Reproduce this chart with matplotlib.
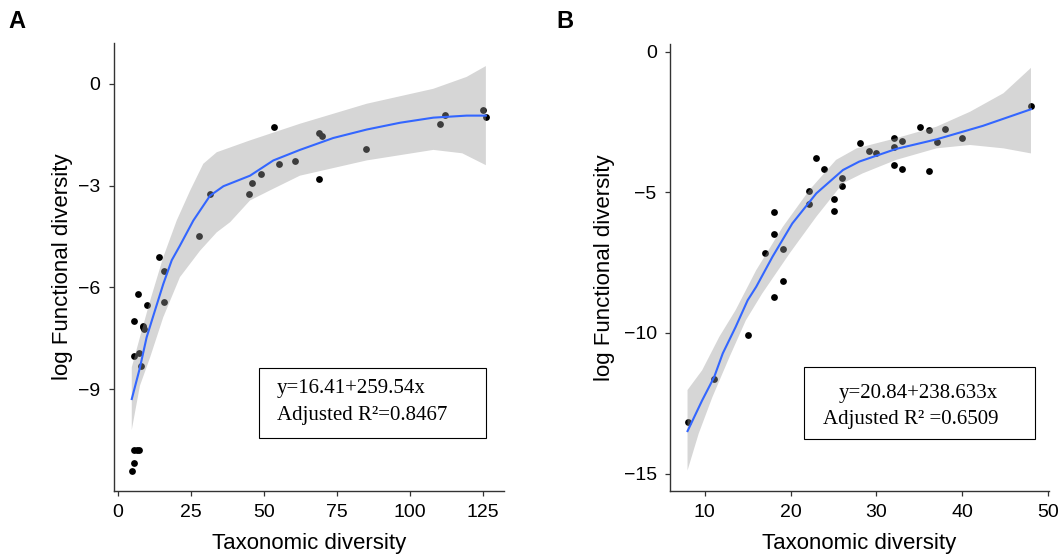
import matplotlib.pyplot as plt
import numpy as np
from matplotlib.patches import Rectangle

plt.rcParams['font.family'] = ['Liberation Sans', 'DejaVu Sans']

# Panel A: observed points (taxonomic vs log functional diversity)
a_tax = [4.8, 5.7, 5.7, 6.5, 7.3, 5.7, 7.3, 8.1, 5.7, 8.8, 8.5, 9.0, 7.1, 9.9,
         16.0, 16.0, 14.1, 27.9, 31.6, 45.0, 45.9, 49.2, 53.6, 55.1, 60.8,
         69.0, 69.9, 69.0, 84.9, 110.3, 112.1, 125.2, 126.1]
a_fun = [-11.41, -11.17, -10.79, -10.79, -10.79, -8.03, -7.94, -8.32, -7.00,
         -7.13, -7.18, -7.23, -6.19, -6.52, -6.44, -5.53, -5.12, -4.50, -3.25,
         -3.25, -2.92, -2.65, -1.27, -2.36, -2.29, -1.45, -1.55, -2.82, -1.91,
         -1.20, -0.91, -0.78, -0.99]

# Panel A: smoothed fit and confidence band
a_fit_x = [4.8, 7.5, 9.9, 12.5, 15.6, 18.5, 21.3, 25.9, 31.6, 36.2, 45.3, 53.3,
           62.4, 73.8, 85.3, 96.7, 108.1, 119.5, 126.1]
a_fit_y = [-9.29, -8.40, -7.47, -6.75, -5.90, -5.20, -4.77, -4.03, -3.30, -3.02,
           -2.71, -2.26, -1.95, -1.60, -1.35, -1.15, -1.00, -0.94, -0.94]
a_hi_x = [4.8, 7.6, 11.1, 15.6, 20.2, 24.8, 29.3, 33.9, 45.3, 62.4, 85.3, 108.1,
          119.5, 126.1]
a_hi = [-8.36, -7.47, -6.39, -5.11, -4.03, -3.15, -2.36, -2.02, -1.67, -1.18,
        -0.59, -0.15, 0.20, 0.52]
a_lo_x = [4.8, 7.6, 11.1, 15.6, 21.3, 28.2, 33.9, 38.5, 45.3, 52.0, 62.4, 85.3,
          108.1, 118.0, 126.1]
a_lo = [-10.20, -8.90, -8.06, -6.88, -5.70, -4.92, -4.38, -4.08, -3.44, -3.15,
        -2.71, -2.26, -1.95, -2.05, -2.40]

# Panel B
b_tax = [8.0, 11.1, 15.0, 18.1, 19.1, 17.0, 19.1, 18.1, 18.1, 22.1, 22.1, 25.1,
         25.1, 23.0, 23.9, 26.0, 26.0, 28.1, 29.1, 30.0, 32.1, 33.0, 32.1, 32.1,
         33.0, 36.1, 35.1, 36.1, 38.0, 37.0, 40.0, 48.0]
b_fun = [-13.15, -11.64, -10.06, -8.74, -8.14, -7.16, -7.03, -6.49, -5.72, -4.95,
         -5.42, -5.25, -5.68, -3.77, -4.19, -4.48, -4.79, -3.26, -3.55, -3.62,
         -3.08, -3.17, -3.38, -4.02, -4.19, -4.23, -2.69, -2.79, -2.74, -3.21,
         -3.08, -1.93]

b_fit_x = [8.0, 9.7, 11.1, 12.1, 13.6, 15.0, 16.0, 17.9, 20.2, 23.0, 26.1, 28.0,
           32.3, 37.0, 42.4, 48.0]
b_fit_y = [-13.49, -12.40, -11.57, -10.73, -9.79, -8.84, -8.36, -7.29, -6.11,
           -5.04, -4.21, -3.91, -3.46, -3.12, -2.64, -2.05]
b_hi_x = [8.0, 9.7, 11.7, 13.6, 16.0, 19.1, 22.2, 25.3, 27.7, 32.3, 37.0, 40.9,
          44.8, 48.0]
b_hi = [-12.03, -11.33, -10.14, -9.19, -7.77, -6.23, -4.92, -3.85, -3.44, -3.08,
        -2.67, -2.14, -1.48, -0.58]
b_lo_x = [8.0, 9.3, 10.9, 12.9, 14.8, 16.7, 19.9, 23.0, 26.1, 28.4, 32.3, 37.0,
          40.9, 44.8, 48.0]
b_lo = [-14.89, -13.58, -12.28, -10.85, -9.55, -8.60, -7.17, -5.87, -4.68, -4.33,
        -3.85, -3.44, -3.32, -3.44, -3.62]

a_xticks = [0, 25, 50, 75, 100, 125]
a_yticks = [0, -3, -6, -9]
b_xticks = [10, 20, 30, 40, 50]
b_yticks = [0, -5, -10, -15]

a_text = ["y=16.41+259.54x", "Adjusted R\u00b2=0.8467"]
b_text = ["y=20.84+238.633x", "Adjusted R\u00b2 =0.6509"]


def draw_panel(ax, tax, fun, fx, fy, hx, hi, lx, lo, ylab_x):
    ax.scatter(tax, fun, s=24, color='black', zorder=2, linewidths=0)
    poly_x = np.concatenate([hx, lx[::-1]])
    poly_y = np.concatenate([hi, lo[::-1]])
    ax.fill(poly_x, poly_y, color='#999999', alpha=0.4, lw=0, zorder=3)
    ax.plot(fx, fy, color='#3366FF', lw=1.5, zorder=4)
    for s in ['top', 'right']:
        ax.spines[s].set_visible(False)
    for s in ['left', 'bottom']:
        ax.spines[s].set_color('#333333')
        ax.spines[s].set_linewidth(1.0)
    ax.tick_params(length=3.6, width=0.9, color='#333333', labelsize=14, pad=6,
                   labelcolor='black')
    ax.set_xlabel("Taxonomic diversity", fontsize=16)
    ax.set_ylabel("log Functional diversity", fontsize=16)
    ax.xaxis.set_label_coords(0.5, -0.093)
    ax.yaxis.set_label_coords(ylab_x, 0.5)


def add_box(ax, box, lines):
    (x0, y0, x1, y1) = box
    ax.add_patch(Rectangle((x0, y0), x1 - x0, y1 - y0, transform=ax.transAxes,
                           fill=False, ec='black', lw=0.8, zorder=5))
    for (tx, ty, t) in lines:
        ax.text(tx, ty, t, transform=ax.transAxes, ha='left', va='center',
                fontsize=15, family='Liberation Serif', zorder=6)


fig = plt.figure(figsize=(10.61, 5.56), dpi=100)

ax1 = fig.add_axes([0.1074, 0.1169, 0.3676, 0.8058])
draw_panel(ax1, a_tax, a_fun, a_fit_x, a_fit_y, a_hi_x, a_hi, a_lo_x, a_lo,
           -0.105)
ax1.set_xlim(-1.3, 132.3)
ax1.set_ylim(-12.0, 1.2)
ax1.set_xticks(a_xticks)
ax1.set_yticks(a_yticks)
add_box(ax1, (0.3726, 0.1176, 0.9538, 0.2752),
        [(0.4172, 0.2292, a_text[0]), (0.4172, 0.1696, a_text[1])])

ax2 = fig.add_axes([0.6315, 0.1169, 0.3572, 0.8040])
draw_panel(ax2, b_tax, b_fun, b_fit_x, b_fit_y, b_hi_x, b_hi, b_lo_x, b_lo,
           -0.145)
ax2.set_xlim(5.96, 50.1)
ax2.set_ylim(-15.62, 0.27)
ax2.set_xticks(b_xticks)
ax2.set_yticks(b_yticks)
add_box(ax2, (0.3536, 0.1157, 0.963, 0.2767),
        [(0.4451, 0.2186, b_text[0]), (0.4037, 0.1604, b_text[1])])

fig.text(17 / 1061, 1 - 22 / 556, "A", fontsize=17, fontweight='bold',
         ha='center', va='center')
fig.text(565 / 1061, 1 - 22 / 556, "B", fontsize=17, fontweight='bold',
         ha='center', va='center')

fig.savefig("out.png", dpi=100)
